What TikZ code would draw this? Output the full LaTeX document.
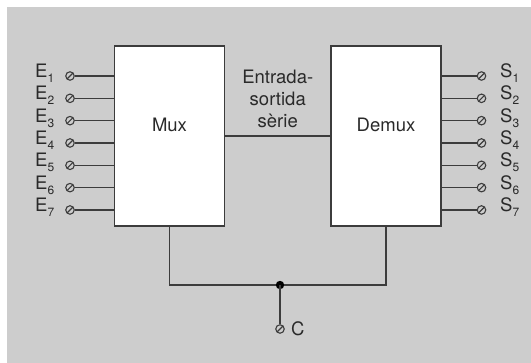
\documentclass[tikz,border=0pt]{standalone}
\usepackage{fontspec}
\setmainfont{TeX Gyre Heros}
\usetikzlibrary{positioning}

\definecolor{bggray}{HTML}{CDCDCD}
\definecolor{wiregray}{HTML}{3C3C3C}
\definecolor{txtgray}{HTML}{2A2A2A}

\newcommand{\subidx}[1]{\raisebox{-5pt}{\fontsize{12}{12}\selectfont #1}}

\tikzset{
  wire/.style={draw=wiregray, line width=1.4pt},
  block/.style={draw=wiregray, line width=1.5pt, fill=white,
    minimum width=110pt, minimum height=180pt, inner sep=0pt},
  lbl/.style={text=txtgray, font=\fontsize{18.5}{21.8}\selectfont, inner sep=0pt},
  term/.style={circle, draw=wiregray, line width=1.1pt, minimum size=8.5pt, inner sep=0pt,
    path picture={\draw[wiregray, line width=1.1pt]
      (path picture bounding box.south west) -- (path picture bounding box.north east);}}
}

\begin{document}
\begin{tikzpicture}[x=1pt,y=1pt]
		\useasboundingbox (0,0) rectangle (531,-363);
		
		% Background panel
		\fill[bggray] (6.7,-7.3) rectangle (531,-363);
		
		% Mux and Demux blocks
		\node[block] (mux) at (169.5,-136) {};
		\node[block] (demux) at (386,-136) {};
		\node[lbl] (muxtxt) at ([yshift=11.5pt]mux.center) {Mux};
		\node[lbl] (demuxtxt) at ([yshift=11.5pt]demux.center) {Demux};
		
		% Inputs E and outputs S
		\foreach \i in {1,...,7}{
			\pgfmathsetmacro{\yy}{-76-22.33*(\i-1)}
			\node[term] (et\i) at (70,\yy) {};
			\node[lbl,anchor=base west] (el\i) at (35,\yy-1.5) {E\subidx{\i}};
			\draw[wire] (et\i) -- (mux.west |- et\i);
			\node[term] (st\i) at (481.5,\yy) {};
			\node[lbl,anchor=base west] (sl\i) at (500,\yy-1.5) {S\subidx{\i}};
			\draw[wire] (demux.east |- st\i) -- (st\i);
		}
		
		% Serial link between the blocks
		\draw[wire] (mux) -- (demux);
		\node[lbl,align=center] (serie) at (277.75,-99) {Entrada-\\sortida\\sèrie};
		
		% Common control line C
		\coordinate (jn) at (280,-285);
		\draw[wire] (mux.south) |- (jn) -| (demux.south);
		\fill[black] (jn) circle (4.2);
		\node[term] (ct) at (280,-329) {};
		\draw[wire] (jn) -- (ct);
		\node[lbl,right=6pt of ct] (clbl) {C};
		
	\end{tikzpicture}
\end{document}
